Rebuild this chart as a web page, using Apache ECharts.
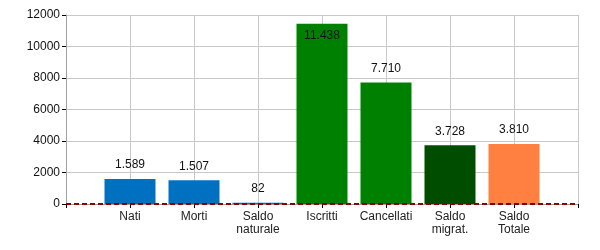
<!DOCTYPE html>
<html><head><meta charset="utf-8">
<script src="https://cdn.jsdelivr.net/npm/echarts@6/dist/echarts.min.js"></script>
<style>html,body{margin:0;padding:0;background:#fff}#c{width:600px;height:250px}</style>
</head><body><div id="c"></div>
<script>
var categories = ['', 'Nati', 'Morti', 'Saldo\nnaturale', 'Iscritti', 'Cancellati', 'Saldo\nmigrat.', 'Saldo\nTotale', ''];
var values = [null, 1589, 1507, 82, 11438, 7710, 3728, 3810, null];
var barColors = [null, '#0070C0', '#0070C0', '#0070C0', '#008000', '#008000', '#004D00', '#FF8040', null];
var labelInside = [false, false, false, false, true, false, false, false, false];
var yTicks = { min: 0, max: 12000, interval: 2000 };

function fmt(v) {
  return String(v).replace(/\B(?=(\d{3})+(?!\d))/g, '.');
}
var data = values.map(function (v, i) {
  if (v === null) return null;
  return {
    value: v,
    itemStyle: { color: barColors[i] },
    label: { position: labelInside[i] ? 'insideTop' : 'top', distance: labelInside[i] ? 6 : 8 }
  };
});
var FONT = 'Liberation Sans';
var chart = echarts.init(document.getElementById('c'), null, { renderer: 'canvas' });
chart.setOption({
  animation: false,
  backgroundColor: '#fff',
  grid: { left: 66, right: 22, top: 15, bottom: 46, containLabel: false },
  xAxis: {
    type: 'category',
    data: categories,
    boundaryGap: false,
    axisLine: { lineStyle: { color: '#a0a0a0', width: 1 } },
    axisTick: { show: true, alignWithLabel: true, length: 4, lineStyle: { color: '#000' } },
    axisLabel: { color: '#222', fontFamily: FONT, fontSize: 12, margin: 6, lineHeight: 13, interval: 0 },
    splitLine: { show: true, lineStyle: { color: '#c8c8c8', width: 1 } }
  },
  yAxis: {
    type: 'value',
    min: yTicks.min, max: yTicks.max, interval: yTicks.interval,
    axisLine: { show: true, lineStyle: { color: '#a0a0a0', width: 1 } },
    axisTick: { show: true, length: 4, lineStyle: { color: '#000' } },
    axisLabel: { color: '#111', fontFamily: FONT, fontSize: 12, margin: 6, formatter: function (v) { return String(v); } },
    splitLine: { show: true, lineStyle: { color: '#c8c8c8', width: 1 } }
  },
  series: [{
    type: 'bar',
    data: data,
    barWidth: 51,
    label: {
      show: true,
      color: '#111',
      fontFamily: FONT,
      fontSize: 12,
      formatter: function (p) { return fmt(p.value); }
    },
    markLine: {
      silent: true,
      symbol: 'none',
      label: { show: false },
      lineStyle: { color: '#8B0000', type: [5, 3], width: 2 },
      data: [{ yAxis: 0 }]
    }
  }]
});
</script></body></html>
